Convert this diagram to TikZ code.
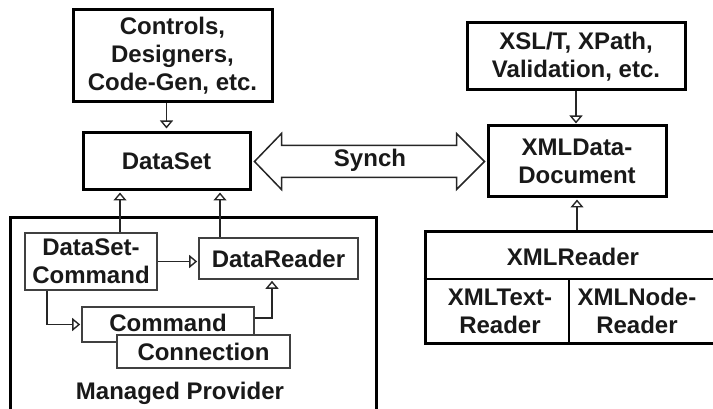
\documentclass[tikz,border=0pt]{standalone}
\usepackage{fontspec}
\setmainfont{Liberation Sans}
\usetikzlibrary{arrows.meta,calc}
\begin{document}
\begin{tikzpicture}[x=1pt,y=-1pt,
  every node/.style={font=\fontsize{24}{28}\selectfont\bfseries, text=black!90, align=center, inner sep=0pt},
  bigbox/.style={draw, line width=3pt, rectangle},
  smallbox/.style={draw=black!75, line width=1.6pt, rectangle, fill=white},
  conn/.style={draw=black!85, line width=1.5pt, -{Triangle[open,length=8pt,width=13pt,line width=1.4pt]}},
  plain/.style={draw=black!85, line width=1.5pt}]
\useasboundingbox (0,0) rectangle (713,409);
\clip (0,0) rectangle (713,409);

% upper left: tools and DataSet
\node[bigbox, minimum width=199pt, minimum height=92pt] (ctl) at (172.5,56) {Controls,\\Designers,\\Code-Gen, etc.};
\node[bigbox, minimum width=167pt, minimum height=57pt] (ds) at (166.5,161.5) {DataSet};

% upper right: XML tools and XMLDataDocument
\node[bigbox, minimum width=218pt, minimum height=67pt] (xsl) at (576,56.5) {XSL/T, XPath,\\Validation, etc.};
\node[bigbox, minimum width=178pt, minimum height=71pt] (xd) at (577,161.5) {XMLData-\\Document};

% synchronisation double arrow
\coordinate (sl) at ($(ds.east)+(3,0)$);
\coordinate (sr) at ($(xd.west)+(-2,0)$);
\draw[line width=1.5pt, draw=black!85, fill=white, line join=miter]
  (sl) -- ($(sl)+(27,-28)$) -- ($(sl)+(27,-16)$) -- ($(sr)+(-28,-16)$) -- ($(sr)+(-28,-28)$)
  -- (sr) -- ($(sr)+(-28,28)$) -- ($(sr)+(-28,16)$) -- ($(sl)+(27,16)$) -- ($(sl)+(27,28)$) -- cycle;
\node (synch) at (370,160) {Synch};

% XMLReader block
\node[bigbox, minimum width=291pt, minimum height=111pt] (xr) at (570.5,287.5) {};
\draw[line width=2pt] (xr.west |- 0,279) -- (xr.east |- 0,279);
\draw[line width=2pt] (569,279) -- (569,343);
\node (xrt) at (573,257) {XMLReader};
\node (xtr) at (500,311) {XMLText-\\Reader};
\node (xnr) at (637,311) {XMLNode-\\Reader};

% managed provider frame
\draw[line width=3pt] (10,412) -- (10,218) -- (376,218) -- (376,412);
\node (mp) at (180,393) {Managed Provider};

% provider classes
\node[smallbox, minimum width=132pt, minimum height=57pt] (dsc) at (91,261.5) {DataSet-\\Command};
\node[smallbox, minimum width=159pt, minimum height=41pt] (dr) at (278.5,258.5) {DataReader};
\node[smallbox, minimum width=172pt, minimum height=35pt, text depth=4pt] (cmd) at (168,324.5) {Command};
\node[smallbox, minimum width=173pt, minimum height=33pt] (con) at (203.5,351.5) {Connection};

% connectors
\draw[conn, shorten >=3pt] (ds.north |- ctl.south) -- (ds.north);
\draw[conn, shorten >=1pt] (xsl.south) -- (xsl.south |- xd.north);
\draw[conn, shorten >=1pt] (xd.south |- xr.north) -- (xd.south);
\draw[conn, shorten >=1pt] ([xshift=29pt]dsc.north) -- ([xshift=29pt]dsc.north |- ds.south);
\draw[conn, shorten >=1pt] ([xshift=-58.5pt]dr.north) -- ([xshift=-58.5pt]dr.north |- ds.south);
\draw[conn, shorten >=1pt] (dsc.east) -- (dsc.east -| dr.west);
\draw[conn, shorten >=1pt] ([xshift=-44pt]dsc.south) |- (cmd.west);
\draw[conn, shorten >=1pt] ([yshift=6.5pt]cmd.east) -| ([xshift=-6.5pt]dr.south);
\end{tikzpicture}
\end{document}
